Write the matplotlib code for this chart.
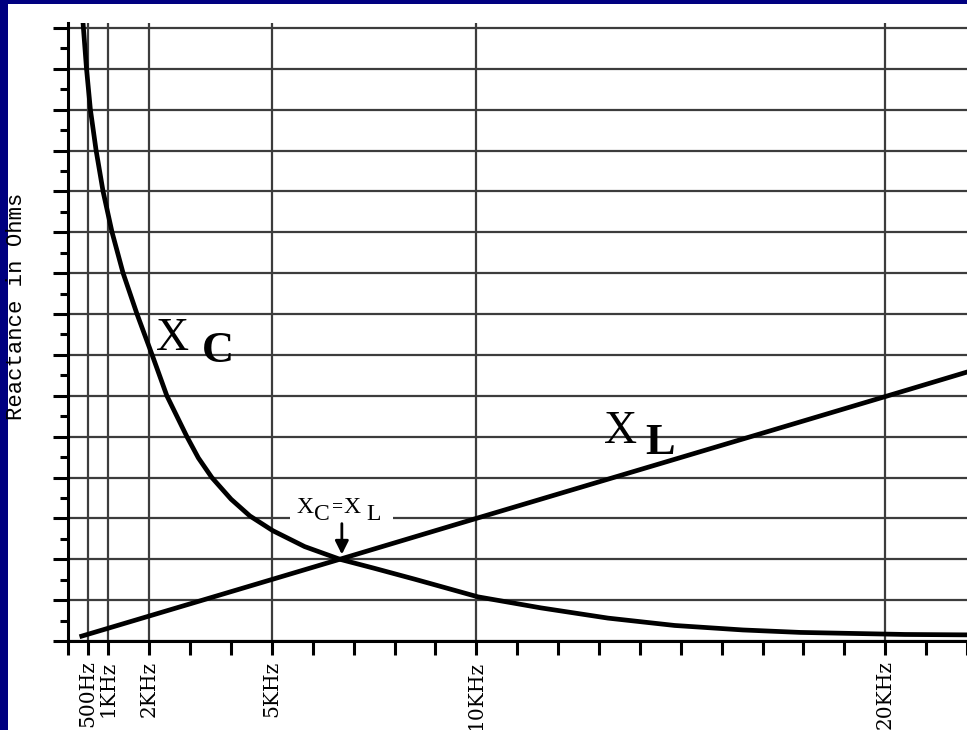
import matplotlib.pyplot as plt
from matplotlib.patches import Rectangle

# frequency axis (kHz)
freq_ticks = [0.5, 1, 2, 5, 10, 20]
freq_labels = ['500Hz', '1KHz', '2KHz', '5KHz', '10KHz', '20KHz']
freq_minor = [0, 3, 4, 6, 7, 8, 9, 11, 12, 13, 14, 15, 16, 17, 18, 19, 21, 22]

# reactance grid units
ohm_major = list(range(0, 16))
ohm_minor = [i + 0.5 for i in range(0, 15)]

# capacitive reactance
xc_freq = [0.38, 0.465, 0.56, 0.70, 0.87, 1.09, 1.36, 1.70, 2.07, 2.43, 2.92,
           3.2, 3.53, 4.0, 4.46, 5.02, 5.8, 6.66, 7.5, 8.5, 9.11, 10.04,
           11.58, 13.22, 14.85, 16.52, 17.92, 20.48, 22.0]
xc_ohm = [15.12, 14.0, 13.0, 12.0, 11.0, 10.0, 9.0, 8.0, 7.0, 6.0, 5.0,
          4.48, 4.0, 3.47, 3.06, 2.70, 2.31, 2.0, 1.78, 1.51, 1.34, 1.08,
          0.81, 0.56, 0.38, 0.27, 0.21, 0.16, 0.15]

# inductive reactance
xl_freq = [0.35, 6.66, 10.0, 20.0, 22.0]
xl_ohm = [0.12, 2.0, 3.0, 5.98, 6.58]

fig = plt.figure(figsize=(9.67, 7.30), dpi=100)
fig.patch.set_facecolor('white')
fig.patches.append(Rectangle((0, 0), 8 / 967, 1, transform=fig.transFigure,
                             facecolor='#000080', edgecolor='none'))
fig.patches.append(Rectangle((0, 1 - 4 / 730), 1, 4 / 730, transform=fig.transFigure,
                             facecolor='#000080', edgecolor='none'))

ax = fig.add_axes([67.5 / 967, 89 / 730, 1 - 67.5 / 967, 618 / 730])
ax.set_xlim(0, 22)
ax.set_ylim(0, 15.12)

for s in ['top', 'right']:
    ax.spines[s].set_visible(False)
for s in ['left', 'bottom']:
    ax.spines[s].set_linewidth(2.2)
    ax.spines[s].set_zorder(5)

ax.set_xticks(freq_ticks)
ax.set_xticklabels(freq_labels, rotation=90, fontsize=14.5, family='DejaVu Serif')
ax.set_xticks(freq_minor, minor=True)
ax.set_yticks(ohm_major)
ax.set_yticklabels([])
ax.set_yticks(ohm_minor, minor=True)

ax.tick_params(axis='x', which='both', length=10, width=2.2, pad=4)
ax.tick_params(axis='y', which='major', length=11, width=2.2)
ax.tick_params(axis='y', which='minor', length=6, width=2.2)

ax.grid(which='major', color='#3c3c3c', linewidth=1.6)
ax.set_axisbelow(True)

ax.plot(xc_freq, xc_ohm, color='black', lw=3.4, solid_joinstyle='round', zorder=3)
ax.plot(xl_freq, xl_ohm, color='black', lw=3.4, solid_joinstyle='round', zorder=3)

# curve labels
ax.text(2.17, 7.12, 'X', fontsize=33, family='Liberation Serif', va='baseline')
ax.text(3.29, 6.83, 'C', fontsize=32, family='Liberation Serif', weight='bold', va='baseline')
ax.text(13.12, 4.84, 'X', fontsize=33, family='Liberation Serif', va='baseline')
ax.text(14.12, 4.58, 'L', fontsize=32, family='Liberation Serif', weight='bold', va='baseline')

# crossover note, with a gap cut in the grid line behind it
ax.add_patch(Rectangle((5.45, 2.9), 2.5, 0.2, facecolor='white', edgecolor='none', zorder=2))
ax.text(5.59, 3.13, 'X', fontsize=17, family='Liberation Serif', va='baseline', zorder=4)
ax.text(6.04, 2.96, 'C', fontsize=17, family='Liberation Serif', va='baseline', zorder=4)
ax.text(6.47, 3.30, '=', fontsize=14, family='Liberation Serif', weight='bold',
        va='center', zorder=4)
ax.text(6.76, 3.13, 'X', fontsize=17, family='Liberation Serif', va='baseline', zorder=4)
ax.text(7.30, 2.96, 'L', fontsize=17, family='Liberation Serif', va='baseline', zorder=4)
ax.annotate('', xy=(6.71, 2.05), xytext=(6.71, 2.94),
            arrowprops=dict(arrowstyle='-|>', color='black', lw=2, mutation_scale=20),
            zorder=4)

fig.text(17 / 967, 1 - 306.5 / 730, 'Reactance in Ohms', rotation=90, fontsize=16,
         family='Liberation Mono', ha='center', va='center')

fig.savefig('out.png', dpi=100)
